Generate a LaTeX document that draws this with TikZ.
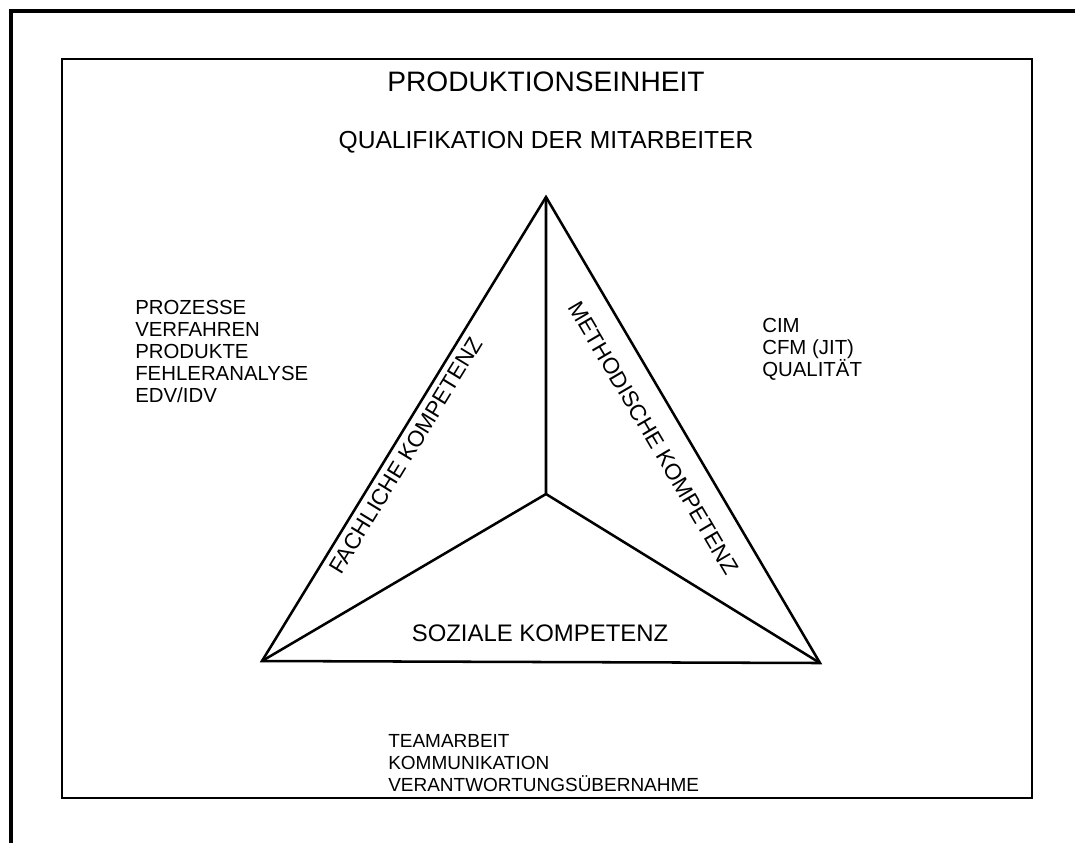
\documentclass[tikz,border=0pt]{standalone}
\usepackage{fontspec}
\setmainfont{Liberation Sans}
\usetikzlibrary{positioning}
\tikzset{
	frame/.style={draw=black, line width=2.2pt},
	box/.style={draw=black, line width=1.4pt},
	edge/.style={draw=black, line width=1.8pt, line join=miter},
	liste/.style={
		align=left,
		anchor=north west,
		inner sep=0pt,
		font=\fontsize{14.5}{15.6}\selectfont,
	},
	kompetenz/.style={sloped, inner xsep=0pt, font=\fontsize{16}{18}\selectfont},
}

\begin{document}
\begin{tikzpicture}[x=0.025cm, y=-0.025cm]
        \useasboundingbox (0,0) rectangle (1075,843);
        % outer frame and box
        \draw[frame] (1075,11) -- (11,11) -- (11,843);
        \draw[box] (62,59) rectangle (1032,798);

        \node[inner sep=0pt, font=\fontsize{20}{24}\selectfont] (titel) at (546,82) {PRODUKTIONSEINHEIT};
        \node[inner sep=0pt, font=\fontsize{17.5}{20}\selectfont] (quali) at (546,142) {QUALIFIKATION DER MITARBEITER};

        % triangle
        \coordinate (T) at (546,197);
        \coordinate (L) at (262,661);
        \coordinate (R) at (820,663);
        \coordinate (M) at (546,494);
        \draw[edge] (L) -- (T) -- (R) -- cycle;
        \draw[edge] (T) -- (M) (M) -- (L) (M) -- (R);

        \path (L) -- (T) node[kompetenz, pos=0.46, below, inner ysep=5pt] (fach) {FACHLICHE KOMPETENZ};
        \path (T) -- (R) node[kompetenz, pos=0.485, below, inner ysep=15pt] (methode) {METHODISCHE KOMPETENZ};
        \node[inner sep=0pt, font=\fontsize{17}{20}\selectfont] (sozial) at (540,633) {SOZIALE KOMPETENZ};

        % lists
        \node[liste] (fachliste) at (135,300) {PROZESSE\\VERFAHREN\\PRODUKTE\\FEHLERANALYSE\\EDV/IDV};
        \node[liste] (methodeliste) at (762,318) {CIM\\CFM (JIT)\\QUALITÄT};
        \node[liste, font=\fontsize{13.5}{15.6}\selectfont] (sozialliste) at (388,734) {TEAMARBEIT\\KOMMUNIKATION\\VERANTWORTUNGSÜBERNAHME};
\end{tikzpicture}
\end{document}
